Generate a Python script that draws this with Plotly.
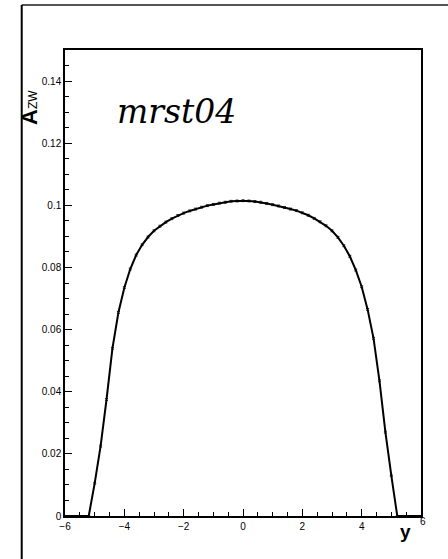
import plotly.graph_objects as go

# Rapidity bins and asymmetry values
y_bins = [-6.0, -5.8, -5.6, -5.4, -5.2, -5.0, -4.8, -4.6, -4.4, -4.2, -4.0,
          -3.8, -3.6, -3.4, -3.2, -3.0, -2.8, -2.6, -2.4, -2.2, -2.0,
          -1.8, -1.6, -1.4, -1.2, -1.0, -0.8, -0.6, -0.4, -0.2, 0.0,
          0.2, 0.4, 0.6, 0.8, 1.0, 1.2, 1.4, 1.6, 1.8, 2.0,
          2.2, 2.4, 2.6, 2.8, 3.0, 3.2, 3.4, 3.6, 3.8, 4.0,
          4.2, 4.4, 4.6, 4.8, 5.0, 5.2, 5.4, 5.6, 5.8, 6.0]
a_zw = [0.0, 0.0, 0.0, 0.0, 0.0, 0.0105, 0.0225, 0.0375, 0.0540, 0.0655, 0.0735,
        0.0795, 0.0840, 0.0873, 0.0898, 0.0918, 0.0933, 0.0946, 0.0957, 0.0967, 0.0975,
        0.0982, 0.0988, 0.0994, 0.0999, 0.1003, 0.1007, 0.1010, 0.1013, 0.1014, 0.1015,
        0.1014, 0.1012, 0.1010, 0.1006, 0.1002, 0.0998, 0.0993, 0.0988, 0.0983, 0.0976,
        0.0968, 0.0958, 0.0947, 0.0934, 0.0918, 0.0897, 0.0870, 0.0836, 0.0792, 0.0738,
        0.0665, 0.0572, 0.0435, 0.0270, 0.0130, 0.0, 0.0, 0.0, 0.0, 0.0]
a_err = [0.0, 0.0, 0.0, 0.0, 0.0, 0.0002, 0.0003, 0.0003, 0.0003, 0.0003, 0.0003,
         0.0003, 0.0003, 0.0003, 0.0003, 0.0003, 0.0003, 0.0003, 0.0003, 0.0003, 0.0003,
         0.0003, 0.0003, 0.0003, 0.0003, 0.0003, 0.0003, 0.0003, 0.0003, 0.0003, 0.0003,
         0.0003, 0.0003, 0.0003, 0.0003, 0.0003, 0.0003, 0.0003, 0.0003, 0.0003, 0.0003,
         0.0003, 0.0003, 0.0003, 0.0003, 0.0003, 0.0003, 0.0003, 0.0003, 0.0003, 0.0003,
         0.0003, 0.0003, 0.0003, 0.0003, 0.0002, 0.0, 0.0, 0.0, 0.0, 0.0]

x_tickvals = [-6, -4, -2, 0, 2, 4, 6]
x_ticktext = ["\u22126", "\u22124", "\u22122", "0", "2", "4", ""]
y_tickvals = [0, 0.02, 0.04, 0.06, 0.08, 0.10, 0.12, 0.14]
y_ticktext = ["0", "0.02", "0.04", "0.06", "0.08", "0.1", "0.12", "0.14"]

fig = go.Figure()
fig.add_trace(go.Scatter(
    x=y_bins, y=a_zw, mode="lines",
    line=dict(color="black", width=2),
    error_y=dict(type="data", array=a_err, color="#333333", thickness=1, width=1.5),
    showlegend=False,
))

tickfont = dict(family="Liberation Sans", size=10, color="black")

fig.update_layout(
    width=448, height=559,
    margin=dict(l=65, r=27, t=50, b=43),
    paper_bgcolor="white", plot_bgcolor="white",
    xaxis=dict(
        range=[-6, 6], showgrid=False, zeroline=False,
        showline=True, linecolor="black", linewidth=1.5, mirror=True,
        ticks="inside", ticklen=7, tickwidth=1, tickcolor="black",
        tickvals=x_tickvals, ticktext=x_ticktext, tickfont=tickfont,
        minor=dict(dtick=0.5, ticks="inside", ticklen=4, tickcolor="black", showgrid=False),
    ),
    yaxis=dict(
        range=[0, 0.15], showgrid=False, zeroline=False,
        showline=True, linecolor="black", linewidth=1.5, mirror=True,
        ticks="inside", ticklen=7, tickwidth=1, tickcolor="black",
        tickvals=y_tickvals, ticktext=y_ticktext, tickfont=tickfont,
        minor=dict(dtick=0.005, ticks="inside", ticklen=4, tickcolor="black", showgrid=False),
    ),
    shapes=[
        dict(type="line", xref="paper", yref="paper", x0=-0.1216, x1=1.08, y0=1.0966, y1=1.0966,
             line=dict(color="#555555", width=2)),
        dict(type="line", xref="paper", yref="paper", x0=-0.1216, x1=-0.1216, y0=1.0966, y1=-0.1,
             line=dict(color="black", width=2)),
    ],
    annotations=[
        dict(text="6", x=6, xref="x", y=(516 - 521) / 466, yref="paper",
             showarrow=False, xanchor="center", yanchor="middle", xshift=2,
             font=dict(family="Liberation Sans", size=10, color="black")),
        dict(text="<b>y</b>", x=(405 - 65) / 356, xref="paper", y=(516 - 531) / 466, yref="paper",
             showarrow=False, xanchor="center", yanchor="middle",
             font=dict(family="Liberation Sans", size=19, color="black")),
        dict(text="<b>A</b><span style='font-size:12px'>ZW</span>", textangle=-90,
             x=(30 - 65) / 356, xref="paper", y=(516 - 108) / 466, yref="paper",
             showarrow=False, xanchor="center", yanchor="middle",
             font=dict(family="Liberation Sans", size=22, color="black")),
        dict(text="<i>mrst04</i>", x=(176 - 65) / 356, xref="paper", y=(516 - 111) / 466, yref="paper",
             showarrow=False, xanchor="center", yanchor="middle",
             font=dict(family="DejaVu Serif", size=33, color="black")),
    ],
)

fig.write_html("out.html")
